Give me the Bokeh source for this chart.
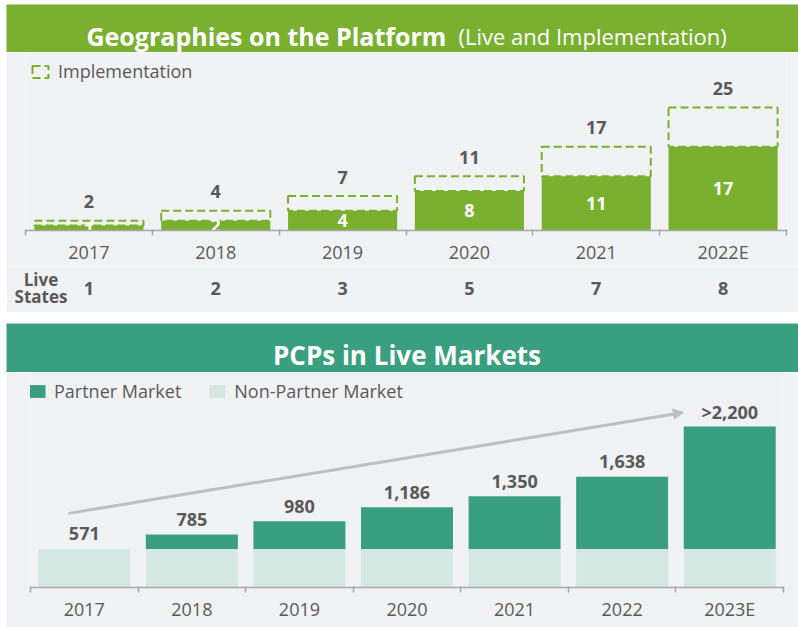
from bokeh.plotting import figure
from bokeh.models import (Range1d, FixedTicker, LinearAxis, Legend, LegendItem,
                          ColumnDataSource, Arrow, NormalHead, Spacer)
from bokeh.layouts import column, row
from bokeh.core.properties import value
from bokeh.embed import file_html
from bokeh.resources import INLINE

# ---------------- data ----------------
geo_years = ["2017", "2018", "2019", "2020", "2021", "2022E"]
geo_live = [1, 2, 4, 8, 11, 17]
geo_total = [2, 4, 7, 11, 17, 25]
live_states = [1, 2, 3, 5, 7, 8]

pcp_years = ["2017", "2018", "2019", "2020", "2021", "2022", "2023E"]
pcp_nonpartner = [571, 571, 571, 571, 571, 571, 571]
pcp_partner = [0, 214, 409, 615, 779, 1067, 1809]
pcp_labels = ["571", "785", "980", "1,186", "1,350", "1,638", ">2,200"]

# ---------------- style ----------------
GREEN = "#7ab030"
TEAL = "#3a9f7e"
LIGHT = "#d5e8e2"
BG = "#f1f2f4"
DARK = "#595959"
AXIS = "#a6a6a6"
ARROW_C = "#bfbfbf"
FN = "Open Sans"
FONT = value(FN)
W = 792


def base_fig(height, x_range, y_range, bg, **borders):
    f = figure(width=W, height=height, x_range=x_range, y_range=y_range,
               toolbar_location=None, output_backend="svg", title=None,
               x_axis_location=None, y_axis_location=None, frame_align=False,
               background_fill_color=bg, border_fill_color=bg, outline_line_color=None,
               **borders)
    f.xgrid.visible = False
    f.ygrid.visible = False
    return f


def header(height, color):
    return base_fig(height, Range1d(0, W), Range1d(0, height), color, min_border=0)


def cat_axis(xs, cats):
    ax = LinearAxis(ticker=FixedTicker(ticks=xs, minor_ticks=list(range(len(cats) + 1))),
                    major_label_overrides={x: c for x, c in zip(xs, cats)})
    ax.axis_line_color = AXIS
    ax.axis_line_width = 1.5
    ax.major_tick_line_color = None
    ax.major_tick_in = 0
    ax.major_tick_out = 0
    ax.minor_tick_line_color = AXIS
    ax.minor_tick_line_width = 1.5
    ax.minor_tick_in = 1
    ax.minor_tick_out = 5
    ax.major_label_text_font = FN
    ax.major_label_text_font_size = "18px"
    ax.major_label_text_color = DARK
    ax.major_label_standoff = 4
    return ax


def legend(items, loc, gh, standoff, spacing=0):
    return Legend(items=items, location=loc, orientation="horizontal",
                  glyph_width=20, glyph_height=gh, label_height=gh,
                  label_standoff=standoff, spacing=spacing, padding=0, margin=0,
                  background_fill_alpha=0, border_line_color=None,
                  label_text_font=FN, label_text_font_size="18px", label_text_color=DARK)


# ---------------- top header ----------------
h1 = header(48, GREEN)
h1.text(x=[80], y=[17], text=["Geographies on the Platform"], text_align="left",
        text_baseline="alphabetic", text_color="white", text_font=FONT,
        text_font_style="bold", text_font_size="25px")
h1.text(x=[452], y=[17], text=["(Live and Implementation)"], text_align="left",
        text_baseline="alphabetic", text_color="white", text_font=FONT,
        text_font_size="22px")

# ---------------- top chart ----------------
n1 = len(geo_years)
xs1 = [i + 0.5 for i in range(n1)]
src1 = ColumnDataSource(dict(x=xs1, live=geo_live, total=geo_total,
                             half=[v / 2 for v in geo_live],
                             live_s=[str(v) for v in geo_live],
                             total_s=[str(v) for v in geo_total],
                             states=[str(v) for v in live_states]))

L1, R1 = 19, 12
c1 = base_fig(214, Range1d(0, n1), Range1d(0, 36.16), BG,
              min_border_top=0, min_border_bottom=35, min_border_left=L1, min_border_right=R1)

r_impl = c1.vbar(x="x", bottom="live", top="total", width=0.86, source=src1,
                 fill_color=None, line_color=GREEN, line_width=2, line_dash="8 4")
c1.vbar(x="x", top="live", width=0.86, source=src1, fill_color=GREEN, line_color=None)

c1.add_layout(cat_axis(xs1, geo_years), "below")

c1.text(x="x", y="total", text="total_s", source=src1, y_offset=-19,
        text_align="center", text_baseline="middle", text_color=DARK,
        text_font=FONT, text_font_style="bold", text_font_size="18px")
c1.text(x="x", y="half", text="live_s", source=src1,
        text_align="center", text_baseline="middle", text_color="white",
        text_font=FONT, text_font_style="bold", text_font_size="18px")

c1.add_layout(legend([LegendItem(label="Implementation", renderers=[r_impl])],
                     (5, 147), 15, 8))

# ---------------- live states row ----------------
px1 = (W - L1 - R1) / n1
s1 = base_fig(46, Range1d(-L1 / px1, n1 + R1 / px1), Range1d(0, 46), BG, min_border=0)
s1.text(x="x", y=24, text="states", source=src1,
        text_align="center", text_baseline="middle", text_color=DARK,
        text_font=FONT, text_font_style="bold", text_font_size="18px")
s1.text(x=[0, 0], y=[33, 16], text=["Live", "States"], x_offset=15.5,
        text_align="center", text_baseline="middle", text_color=DARK,
        text_font=FONT, text_font_style="bold", text_font_size="17px")

# ---------------- bottom header ----------------
h2 = header(49, TEAL)
h2.text(x=[400.5], y=[18], text=["PCPs in Live Markets"], text_align="center",
        text_baseline="alphabetic", text_color="white", text_font=FONT,
        text_font_style="bold", text_font_size="26px")

# ---------------- bottom chart ----------------
xs2 = [i + 0.5 for i in range(len(pcp_years))]
totals = [a + b for a, b in zip(pcp_nonpartner, pcp_partner)]
src2 = ColumnDataSource(dict(x=xs2, non=pcp_nonpartner, partner=pcp_partner,
                             total=totals, label=pcp_labels))

c2 = base_fig(255, Range1d(0, len(pcp_years)), Range1d(0, 3180), BG,
              min_border_top=0, min_border_bottom=40, min_border_left=24, min_border_right=15)

r_non, r_par = c2.vbar_stack(["non", "partner"], x="x", width=0.855, source=src2,
                             color=[LIGHT, TEAL], line_color=None)

c2.add_layout(cat_axis(xs2, pcp_years), "below")

c2.text(x="x", y="total", text="label", source=src2, y_offset=-15,
        text_align="center", text_baseline="middle", text_color=DARK,
        text_font=FONT, text_font_style="bold", text_font_size="18px")

# growth arrow: from above the first bar to above the last bar
c2.add_layout(Arrow(x_start=xs2[0] - 0.147, y_start=totals[0] * 1.92,
                    x_end=xs2[-1] - 0.43, y_end=totals[-1] * 1.088,
                    line_color=ARROW_C, line_width=3,
                    end=NormalHead(size=10, fill_color=ARROW_C, line_color=ARROW_C)))

c2.add_layout(legend([LegendItem(label="Partner Market", renderers=[r_par]),
                      LegendItem(label="Non-Partner Market", renderers=[r_non])],
                     (-3, 184), 16, 7, spacing=26))

body = column(Spacer(width=W, height=4), h1, c1, s1, Spacer(width=W, height=11), h2, c2,
              spacing=0)
layout = row(Spacer(width=6, height=627), body, spacing=0)
open("out.html", "w").write(file_html(layout, INLINE))
